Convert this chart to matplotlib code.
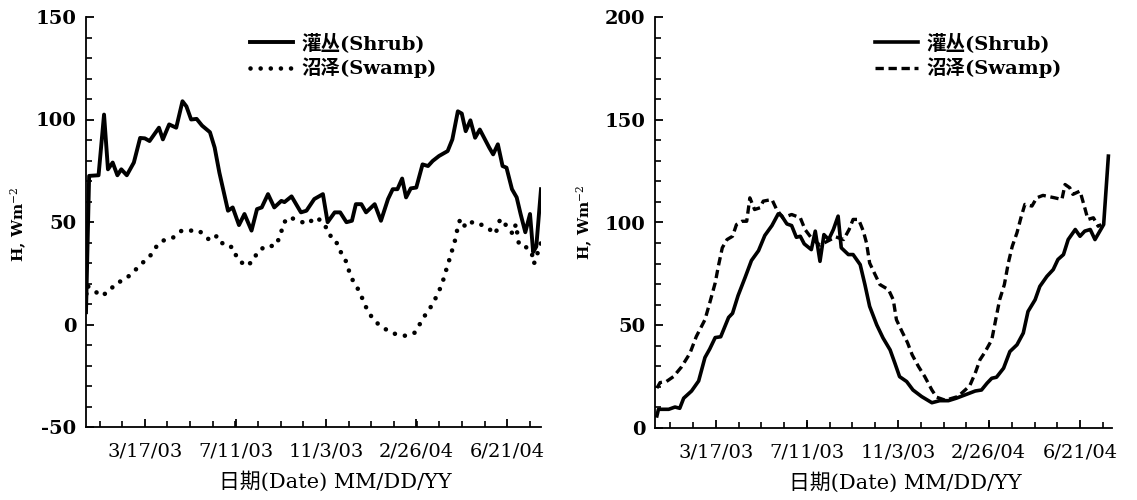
import numpy as np
import matplotlib
matplotlib.use('Agg')
import matplotlib.pyplot as plt
from matplotlib.lines import Line2D
from matplotlib.transforms import ScaledTranslation

plt.rcParams['font.family'] = ['DejaVu Serif', 'Noto Sans CJK SC']
plt.rcParams['mathtext.fontset'] = 'dejavuserif'
plt.rcParams['axes.unicode_minus'] = False

# x = Tage seit 2003-01-01
tick_days = [75, 191, 306, 421, 537]
tick_labels = ['3/17/03', '7/11/03', '11/3/03', '2/26/04', '6/21/04']

# linke Grafik
shrub_l_day = [0, 4, 16, 23, 28, 34, 40, 45, 52, 61, 69, 75, 81, 93, 98, 106, 115, 123,
               128, 134, 141, 148, 158, 164, 170, 181, 187, 195, 202, 211, 218, 224, 232,
               240, 249, 253, 262, 274, 281, 291, 302, 308, 317, 324, 332, 339, 344, 351,
               357, 368, 376, 385, 391, 397, 403, 408, 414, 421, 429, 436, 442, 450, 461,
               467, 474, 479, 484, 490, 496, 502, 514, 519, 525, 531, 536, 543, 549, 554,
               560, 566, 570, 574, 580]
shrub_l = [6, 72.5, 72.8, 102.4, 75.7, 79, 72.8, 75.7, 72.8, 79, 91, 90.8, 89.5, 96, 90.3,
           97.6, 96, 108.9, 106.4, 100, 100.3, 97, 93.8, 86.3, 74.1, 55.5, 57.1, 48.5, 53.9,
           45.8, 56.3, 57.1, 63.6, 57.1, 60.3, 59.7, 62.5, 54.7, 55.5, 61.2, 63.6, 49.9, 54.7,
           54.7, 49.9, 50.6, 58.7, 58.7, 54.7, 58.7, 50.6, 61.2, 66, 66, 71.2, 62, 66.4, 66.8,
           78.1, 77.3, 79.8, 82.2, 84.6, 90.3, 104, 102.9, 94.3, 99.6, 91.1, 95.1, 86.3, 83,
           87.9, 77.3, 76.5, 66, 62, 53.9, 45, 53.9, 35.3, 38, 66]

swamp_l_day = [0, 1, 10, 19, 30, 37, 50, 61, 73, 82, 92, 98, 110, 122, 132, 144, 156, 160,
               167, 176, 187, 193, 204, 214, 218, 230, 241, 248, 251, 258, 269, 281, 294,
               304, 310, 318, 322, 330, 334, 339, 347, 353, 359, 368, 380, 392, 407, 419,
               426, 433, 441, 448, 454, 458, 462, 466, 470, 473, 477, 484, 493, 502, 511,
               522, 528, 536, 544, 548, 552, 561, 568, 571, 574, 580]
swamp_l = [10, 19, 16.7, 13.9, 16.2, 19.9, 22, 25.9, 30.4, 33.6, 39.3, 40.9, 42.1, 45.8,
           45.8, 45.8, 41.7, 40.9, 43.3, 38.5, 37.7, 32, 28.5, 31.2, 35.3, 38.5, 38.2, 43.3,
           49, 52.3, 51.1, 49, 52.3, 49, 43.7, 41.7, 36.9, 32.4, 27.5, 22.3, 17.1, 12.1, 6.6,
           1.6, -1.9, -4.4, -5.5, -4, 0.5, 5, 9.4, 14.6, 19.9, 25.2, 30.1, 35.3, 40.4, 45.8,
           51.5, 47.4, 50.1, 49, 47.4, 44.2, 51.5, 48.2, 44.2, 49, 38.8, 37.7, 35.3, 29.6,
           32.9, 40]

# rechte Grafik
shrub_r_day = [0, 2, 15, 23, 29, 34, 44, 53, 61, 67, 74, 81, 91, 96, 103, 112, 120, 129,
               137, 146, 154, 158, 165, 171, 177, 182, 187, 196, 201, 207, 212, 218, 224,
               230, 234, 243, 249, 258, 264, 270, 279, 287, 296, 302, 308, 317, 325, 336,
               349, 359, 370, 380, 391, 404, 412, 419, 425, 431, 440, 448, 457, 465, 471,
               480, 486, 495, 503, 509, 516, 522, 531, 537, 543, 550, 556, 567, 573]
shrub_r = [5.9, 9.1, 9.1, 10.2, 9.6, 14.5, 18, 22.9, 34.3, 38.4, 44, 44.4, 53.8, 55.8,
           64.4, 73.3, 81.5, 86.3, 93.7, 98.5, 104.2, 103.4, 99.3, 98.5, 92.8, 93.3, 89.6,
           86.8, 95.8, 81.1, 94.1, 91.7, 96.6, 103.1, 87.7, 84.4, 84.4, 79.5, 69.8, 59.2,
           50.2, 43.8, 38, 31.6, 25, 22.6, 18.5, 15.3, 12.3, 13.3, 13.3, 14.5, 16.1, 18, 18.5,
           21.8, 24.2, 24.7, 29.1, 37.2, 40.5, 46.2, 56.7, 62.4, 68.9, 73.8, 77.1, 82, 84.4,
           91.7, 96.6, 93.3, 95.8, 96.6, 91.7, 99, 132.3]

swamp_r_day = [0, 4, 12, 21, 31, 42, 50, 61, 67, 74, 78, 83, 89, 96, 101, 108, 114, 118,
               124, 131, 135, 146, 152, 160, 171, 182, 188, 197, 207, 217, 227, 237, 244,
               249, 256, 262, 266, 270, 277, 283, 294, 300, 304, 311, 318, 324, 332, 340,
               349, 355, 366, 382, 397, 404, 410, 416, 425, 430, 435, 441, 446, 451, 457,
               462, 467, 476, 482, 490, 505, 514, 518, 524, 528, 537, 543, 547, 554, 560, 564]
swamp_r = [19.4, 22.1, 22.6, 25, 29.6, 36.4, 44.5, 52.7, 60.8, 70.6, 78.7, 87.7, 91.7,
           93.3, 99, 100.6, 100.6, 112, 106.3, 107.2, 110.4, 111.2, 106.3, 102.3, 103.9,
           102.3, 96.6, 92, 89, 91, 93, 91.7, 96.6, 101.5, 101.5, 95.8, 90.1, 80.3, 74.6,
           69.8, 67.3, 62.4, 52.7, 47, 41.6, 35.6, 29.9, 25, 18.5, 15, 13.5, 15.3, 20.5, 26.7,
           33.2, 36.7, 42.9, 52.7, 62.4, 69.8, 80.3, 88.4, 95, 102.3, 108.8, 108, 112, 113.2,
           112, 111.2, 118.5, 116.9, 113.7, 115.3, 107.2, 101.5, 102.3, 98.2, 99]

fig = plt.figure(figsize=(11.37, 5.0), dpi=100)
ax1 = fig.add_axes([86 / 1137, 73 / 500, 455 / 1137, 410 / 500])
ax2 = fig.add_axes([655 / 1137, 72 / 500, 457 / 1137, 411 / 500])

dotted = dict(color='black', lw=3.3, linestyle=(0, (0.01, 2.2)), dash_capstyle='round')
dashed = dict(color='black', lw=2.4, linestyle=(0, (2.5, 1.4)))
solid_l = dict(color='black', lw=2.8)
solid_r = dict(color='black', lw=2.6)

ax1.plot(shrub_l_day, shrub_l, **solid_l)
ax1.plot(swamp_l_day, swamp_l, **dotted)
ax2.plot(shrub_r_day, shrub_r, **solid_r)
ax2.plot(swamp_r_day, swamp_r, **dashed)

ax1.set_xlim(0, 580)
ax1.set_ylim(-50, 150)
ax2.set_xlim(-2.4, 577.6)
ax2.set_ylim(0, 200)

minor_days = 75 + 28.875 * np.arange(-2, 18)
shift = ScaledTranslation(6 / 100, 0, fig.dpi_scale_trans)

for ax, ymin, ymax, sw, leg_x, hd in [(ax1, -50, 150, dotted, 250, solid_l),
                                       (ax2, 0, 200, dashed, 875, solid_r)]:
    for s in ['top', 'right']:
        ax.spines[s].set_visible(False)
    for s in ['left', 'bottom']:
        ax.spines[s].set_linewidth(1.3)
    ax.set_xticks(tick_days)
    ax.set_xticklabels(tick_labels, fontsize=14)
    ax.set_xticks([d for d in minor_days if ax.get_xlim()[0] <= d <= ax.get_xlim()[1]],
                  minor=True)
    ax.set_yticks(np.arange(ymin, ymax + 1, 50))
    ax.set_yticks(np.arange(ymin, ymax + 1, 10), minor=True)
    for lab in ax.get_yticklabels():
        lab.set_fontsize(14)
        lab.set_fontweight('bold')
    for lab in ax.get_xticklabels():
        lab.set_transform(lab.get_transform() + shift)
    ax.tick_params(axis='both', which='major', direction='in', length=6, width=1.3)
    ax.tick_params(axis='both', which='minor', direction='in', length=4, width=1.2)
    ax.tick_params(axis='x', which='major', pad=11)
    ax.tick_params(axis='y', which='major', pad=7)

    ax.set_xlabel('日期(Date) MM/DD/YY', fontsize=15)
    ax.set_ylabel('H, Wm$^{-2}$', fontsize=11, fontweight='bold')

    handles = [Line2D([], [], **hd), Line2D([], [], **sw)]
    ax.legend(handles, ['灌丛(Shrub)', '沼泽(Swamp)'], loc='upper left',
              bbox_to_anchor=(leg_x / 1137, 1 - 33 / 500), bbox_transform=fig.transFigure,
              frameon=False, handlelength=2.2, handletextpad=0.45, labelspacing=0.25,
              borderpad=0, borderaxespad=0, prop=dict(size=14, weight='bold'))

ax1.xaxis.set_label_coords(0.549, -0.108)
ax2.xaxis.set_label_coords(0.547, -0.108)
ax1.yaxis.set_label_coords(-0.125, 0.495)
ax2.yaxis.set_label_coords(-0.131, 0.50)

fig.savefig('out.png', dpi=100)
